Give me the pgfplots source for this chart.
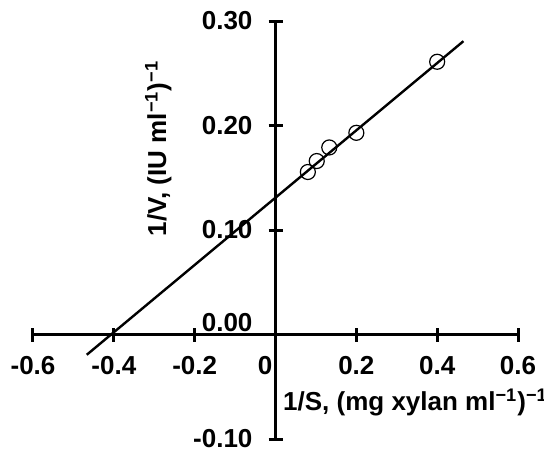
\documentclass[border=0pt]{standalone}
\usepackage{fontspec}
\setmainfont{Liberation Sans}
\usepackage{pgfplots}
\pgfplotsset{compat=1.18}
\newcommand{\lblfont}{\fontsize{13}{15}\selectfont\bfseries}
\begin{document}
\begin{tikzpicture}
\begin{axis}[
  at={(16.5pt,6pt)}, anchor=south west,
  scale only axis, width=242.5pt, height=209pt,
  axis lines=middle,
  axis line style={line width=1.5pt,-},
  xmin=-0.6, xmax=0.6, ymin=-0.1, ymax=0.3,
  xtick={-0.6,-0.4,-0.2,0.2,0.4,0.6},
  xticklabels={-0.6,-0.4,-0.2,0.2,0.4,0.6},
  ytick={-0.1,0.1,0.2,0.3},
  yticklabels={-0.10,0.10,0.20,0.30},
  extra x ticks={0}, extra x tick labels={0},
  extra y ticks={0}, extra y tick labels={0.00},
  extra x tick style={xticklabel style={anchor=north east, xshift=2pt}},
  extra y tick style={yticklabel style={anchor=south east, yshift=-2pt}},
  hide obscured x ticks=false, hide obscured y ticks=false,
  tick align=center, major tick length=7pt,
  tick style={line width=1.5pt, black},
  ticklabel style={font=\lblfont},
  xticklabel style={yshift=-4pt},
  yticklabel style={xshift=-4.5pt},
  clip=false,
]
% fitted line
\addplot[black, line width=1.2pt] coordinates {(-0.467,-0.0194) (0.465,0.2807)};
% measured points
\addplot[only marks, mark=o, mark size=3.75pt, mark options={line width=0.6pt, black}]
  coordinates {(0.08,0.1555) (0.102,0.166) (0.133,0.179) (0.2,0.193) (0.4,0.261)};
\node[rotate=90, font=\lblfont] at (axis cs:-0.29,0.178)
  {1/V, (IU ml\textsuperscript{−1})\textsuperscript{−1}};
\node[anchor=west, inner sep=0pt, font=\lblfont] at (axis cs:0.018,-0.065)
  {1/S, (mg xylan ml\textsuperscript{−1})\textsuperscript{−1}};
\end{axis}
\pgfresetboundingbox
\path[use as bounding box] (0,0) rectangle (272pt,225.5pt);
\end{tikzpicture}
\end{document}
